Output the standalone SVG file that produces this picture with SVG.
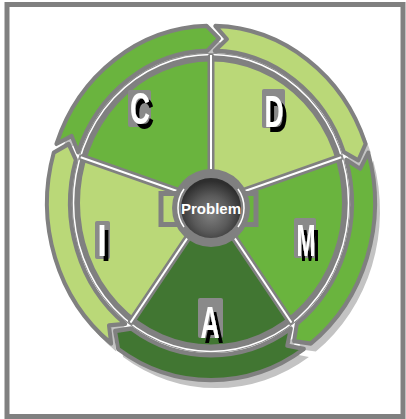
<svg xmlns="http://www.w3.org/2000/svg" xmlns:xlink="http://www.w3.org/1999/xlink" width="406" height="419" viewBox="0 0 406 419">
<defs>
<style>
.seg{stroke:#808080;stroke-width:4;stroke-linejoin:round}
.sec{stroke:none}
.mid{fill:#6ab43e}
.lite{fill:#bad878}
.dark{fill:#417632}
.div{stroke:#808080;stroke-width:7;stroke-linecap:round}
.divw{stroke:#ffffff;stroke-width:2}
.lbl{font-family:"Liberation Sans",Arial,sans-serif;font-weight:bold;font-size:45px;text-anchor:middle;fill:#ffffff;filter:url(#drop)}
.box{fill:#8a8a8a}
</style>
<filter id="drop" x="-50%" y="-50%" width="200%" height="200%">
<feFlood flood-color="#000000" result="f"/>
<feComposite in="f" in2="SourceAlpha" operator="in" result="s"/>
<feOffset in="s" dx="4" dy="5" result="o"/>
<feMerge><feMergeNode in="o"/><feMergeNode in="SourceGraphic"/></feMerge>
</filter>
<path id="ringseg" d="M163.94,4.29 A164,164 0 0 1 54.74,154.59 L39.47,147.30 L47.07,132.91 A141,141 0 0 0 140.95,3.69 L151.66,15.94 Z"/>
<path id="sector" d="M0,0 L135,0 A135,135 0 0 1 41.72,128.39 Z"/>
<radialGradient id="ball" cx="0.5" cy="0.6" r="0.55">
<stop offset="0" stop-color="#808080"/>
<stop offset="0.55" stop-color="#5a5a5a"/>
<stop offset="1" stop-color="#2e2e2e"/>
</radialGradient>
</defs>
<rect x="0" y="0" width="406" height="419" fill="#ffffff"/>
<rect x="7" y="4.5" width="396" height="412" fill="#ffffff" stroke="#808080" stroke-width="5"/>
<g id="shadow" transform="translate(216,211) scale(1,1.08)" fill="#c3c3c3">
<use xlink:href="#ringseg" transform="rotate(198)"/>
<use xlink:href="#ringseg" transform="rotate(270)"/>
<use xlink:href="#ringseg" transform="rotate(342)"/>
<use xlink:href="#ringseg" transform="rotate(54)"/>
<use xlink:href="#ringseg" transform="rotate(126)"/>
</g>
<g transform="translate(211,203) scale(1,1.08)">
<g id="ring">
<use xlink:href="#ringseg" class="seg mid" transform="rotate(198)"/>
<use xlink:href="#ringseg" class="seg lite" transform="rotate(270)"/>
<use xlink:href="#ringseg" class="seg mid" transform="rotate(342)"/>
<use xlink:href="#ringseg" class="seg dark" transform="rotate(54)"/>
<use xlink:href="#ringseg" class="seg lite" transform="rotate(126)"/>
</g>
<g id="node-C"><use xlink:href="#sector" class="sec mid" transform="rotate(198)"/></g>
<g id="node-D"><use xlink:href="#sector" class="sec lite" transform="rotate(270)"/></g>
<g id="node-M"><use xlink:href="#sector" class="sec mid" transform="rotate(342)"/></g>
<g id="node-A"><use xlink:href="#sector" class="sec dark" transform="rotate(54)"/></g>
<g id="node-I"><use xlink:href="#sector" class="sec lite" transform="rotate(126)"/></g>
<g id="connectors">
<circle r="135" fill="none" stroke="#808080" stroke-width="8"/>
<circle r="137.5" fill="none" stroke="#ffffff" stroke-width="1.5"/>
<g transform="rotate(198)"><line x1="20" y1="0" x2="135" y2="0" class="div"/><line x1="20" y1="0" x2="137" y2="0" class="divw"/></g>
<g transform="rotate(270)"><line x1="20" y1="0" x2="135" y2="0" class="div"/><line x1="20" y1="0" x2="137" y2="0" class="divw"/></g>
<g transform="rotate(342)"><line x1="20" y1="0" x2="135" y2="0" class="div"/><line x1="20" y1="0" x2="137" y2="0" class="divw"/></g>
<g transform="rotate(54)"><line x1="20" y1="0" x2="135" y2="0" class="div"/><line x1="20" y1="0" x2="137" y2="0" class="divw"/></g>
<g transform="rotate(126)"><line x1="20" y1="0" x2="135" y2="0" class="div"/><line x1="20" y1="0" x2="137" y2="0" class="divw"/></g>
</g>
</g>
<g id="node-problem">
<rect x="161" y="193.5" width="95" height="31" fill="none" stroke="#808080" stroke-width="5"/>
<circle cx="211" cy="208" r="39" fill="#808080"/>
<path d="M184,189 A33,33 0 0 0 184,227" fill="none" stroke="#ffffff" stroke-width="1.5"/>
<path d="M238,189 A33,33 0 0 1 238,227" fill="none" stroke="#ffffff" stroke-width="1.5"/>
<circle cx="211" cy="208" r="30" fill="url(#ball)"/>
<text x="211" y="214" font-family="Liberation Sans, Arial, sans-serif" font-weight="bold" font-size="15" fill="#ffffff" text-anchor="middle">Problem</text>
</g>
<g id="labels">
<rect class="box" x="128" y="90" width="23" height="37" rx="2"/>
<text class="lbl" x="140" y="124" textLength="20" lengthAdjust="spacingAndGlyphs">C</text>
<rect class="box" x="262" y="89" width="23" height="39" rx="2"/>
<text class="lbl" x="274" y="127" textLength="19" lengthAdjust="spacingAndGlyphs">D</text>
<rect class="box" x="95" y="221" width="15" height="38" rx="2"/>
<text class="lbl" x="102" y="256" textLength="9" lengthAdjust="spacingAndGlyphs">I</text>
<rect class="box" x="294" y="218" width="22" height="40" rx="2"/>
<text class="lbl" x="306" y="256" textLength="19" lengthAdjust="spacingAndGlyphs">M</text>
<rect class="box" x="198" y="298" width="25" height="40" rx="2"/>
<text class="lbl" x="210" y="338" textLength="19" lengthAdjust="spacingAndGlyphs">A</text>
</g>
</svg>
